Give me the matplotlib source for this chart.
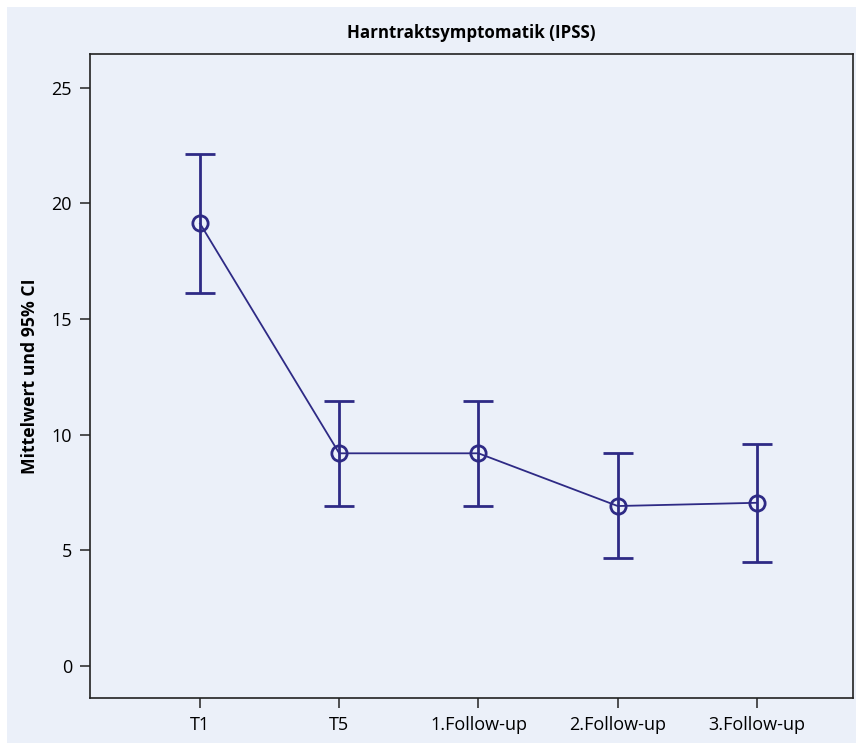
import matplotlib
matplotlib.use("Agg")
import matplotlib.pyplot as plt
from matplotlib.patches import Rectangle

categories = ["T1", "T5", "1.Follow-up", "2.Follow-up", "3.Follow-up"]
means = [19.13, 9.19, 9.19, 6.91, 7.05]
upper = [22.13, 11.45, 11.45, 9.19, 9.58]
lower = [16.13, 6.91, 6.91, 4.65, 4.50]
yticks = [0, 5, 10, 15, 20, 25]

color = "#2e2a85"
bg = "#ebf0f9"
plt.rcParams['font.family'] = ['Open Sans', 'DejaVu Sans']

fig = plt.figure(figsize=(8.56, 7.43), dpi=100, facecolor="white")
fig.patches.append(Rectangle((7/856, -0.01), 1.02, 1.01 - 7/743, transform=fig.transFigure,
                             facecolor=bg, edgecolor="none", zorder=-10))
W, H = 856, 743
left, right, top, bottom = 90, 853, 54, 697.7
ax = fig.add_axes([left/W, 1 - bottom/H, (right-left)/W, (bottom-top)/H])
ax.set_facecolor(bg)

x = list(range(1, len(categories) + 1))
yerr_low = [m - l for m, l in zip(means, lower)]
yerr_up = [u - m for u, m in zip(upper, means)]
ax.errorbar(x, means, yerr=[yerr_low, yerr_up], fmt='none', ecolor=color,
            elinewidth=2.0, capsize=11, capthick=2.0, zorder=2)
ax.plot(x, means, color=color, lw=1.3, zorder=3)
ax.plot(x, means, 'o', mfc='none', mec=color, mew=2.0, ms=11, zorder=4)

ax.set_xlim(0.21, 5.69)
ax.set_ylim(-1.38, 26.46)
ax.set_xticks(x)
ax.set_xticklabels(categories, fontsize=13)
ax.set_yticks(yticks)
ax.set_yticklabels([str(t) for t in yticks], fontsize=13)
ax.tick_params(direction='out', length=7, width=1.2, color='#333333', pad=6)
for s in ax.spines.values():
    s.set_color('#222222')
    s.set_linewidth(1.2)

ax.set_ylabel("Mittelwert und 95% CI", fontsize=12.7, fontweight='bold', labelpad=9)
fig.text(471.5/W, 1 - 33/H, "Harntraktsymptomatik (IPSS)", ha='center', va='center',
         fontsize=12.2, fontweight='bold')

fig.savefig("out.png", dpi=100, facecolor="white")
